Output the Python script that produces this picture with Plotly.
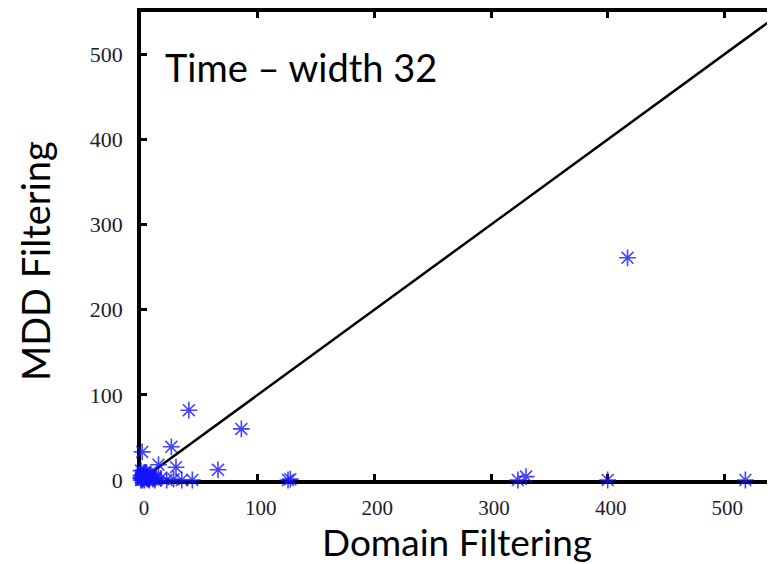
import plotly.graph_objects as go

# Data (Domain Filtering time vs MDD Filtering time)
domain_time = [417, 41, 86, 1, 26, 15, 30, 66, 126, 128, 323, 330, 400, 518,
               7, 12, 17, 22, 28, 35, 44,
               0, 0, 1, 2, 3, 0, 1, 4, 5, 2, 6, 8, 0, 3, 9, 10, 1, 5, 7, 2, 0, 11, 4, 13]
mdd_time = [261, 82, 60, 33, 39, 18, 15, 12, 0, 1, 0, 4, 0, 0,
            1, 0, 2, 0, 1, 0, 0,
            0, 3, 6, 1, 9, 11, 0, 4, 2, 8, 1, 5, 5, 0, 3, 1, 2, 7, 0, 4, 2, 2, 9, 3]
diag = [0, 550]
x_ticks = [0, 100, 200, 300, 400, 500]
y_ticks = [0, 100, 200, 300, 400, 500]

fig = go.Figure()
fig.add_trace(go.Scatter(x=diag, y=diag, mode="lines",
                         line=dict(color="black", width=2.5), hoverinfo="skip"))
fig.add_trace(go.Scatter(x=domain_time, y=mdd_time, mode="markers",
                         marker=dict(symbol="asterisk-open", size=14,
                                     color="rgba(20,20,255,0.8)",
                                     line=dict(color="rgba(20,20,255,0.8)", width=1.6)),
                         cliponaxis=False))

tickfont = dict(family="Liberation Serif", size=21, color="#1c1c30")
fig.update_xaxes(range=[0, 543.4], tickvals=x_ticks, ticks="inside", ticklen=6, tickwidth=3,
                 tickcolor="black", showline=True, linewidth=3.5, linecolor="black",
                 mirror="ticks", showgrid=False, zeroline=False, tickfont=tickfont,
                 ticklabelstandoff=6, ticklabelshift=3, layer="below traces")
fig.update_yaxes(range=[0, 549.7], tickvals=y_ticks, ticks="inside", ticklen=6, tickwidth=3,
                 tickcolor="black", showline=True, linewidth=3.5, linecolor="black",
                 mirror=False, showgrid=False, zeroline=False,
                 tickfont=dict(family="Liberation Serif", size=22, color="#1c1c30"),
                 ticklabelstandoff=10, layer="below traces")

titlefont = dict(family="Lato", size=38, color="black")
fig.add_annotation(text="MDD Filtering", xref="paper", yref="paper", x=-0.167, y=0.468,
                   textangle=-90, showarrow=False, font=titlefont, xanchor="center", yanchor="middle")
fig.add_annotation(text="Domain Filtering", xref="paper", yref="paper", x=0.498, y=-0.131,
                   showarrow=False, font=dict(family="Lato", size=37, color="black"),
                   xanchor="center", yanchor="middle")
fig.add_annotation(text="Time – width 32", xref="paper", yref="paper", x=0.0347, y=0.883,
                   showarrow=False, font=titlefont, xanchor="left", yanchor="middle")

# page body has an 8px margin, so the figure is shifted by 8px to line up with the window
fig.update_layout(width=767, height=556, margin=dict(l=133, r=0, t=2, b=84),
                  plot_bgcolor="white", paper_bgcolor="white", showlegend=False)
fig.write_html("out.html")
